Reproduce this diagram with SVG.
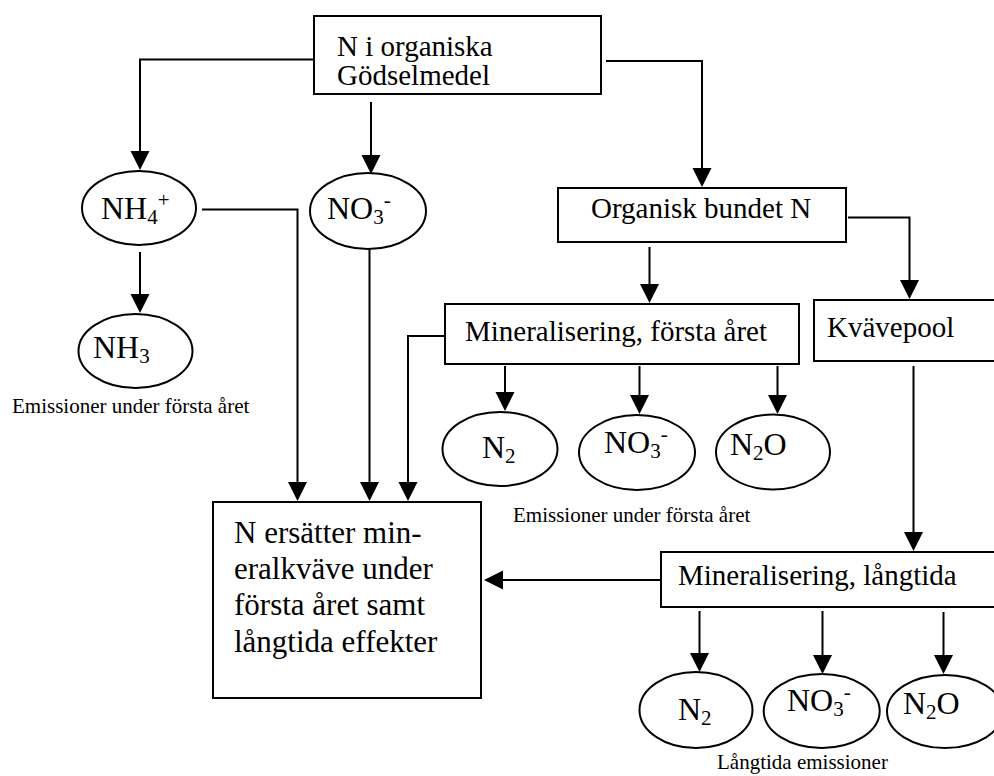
<svg xmlns="http://www.w3.org/2000/svg" width="994" height="776" viewBox="0 0 994 776">
<defs>
<style>
text{font-family:"Liberation Serif","Times New Roman",serif;fill:#000}
.lbl{font-size:29px}
.big{font-size:31px}
.chem{font-size:32px}
.sm{font-size:21px}
.s{font-size:21px}
.node{fill:#fff;stroke:#000;stroke-width:2}
#connectors path{fill:none;stroke:#000;stroke-width:2}
</style>
<marker id="ah" markerUnits="userSpaceOnUse" markerWidth="20" markerHeight="20" viewBox="0 0 20 20" refX="15" refY="9.5" orient="auto">
<path d="M0,0 L19,9.5 L0,19 z" fill="#000"/>
</marker>
</defs>
<rect x="0" y="0" width="994" height="776" fill="#fff"/>
<g id="connectors">
<path d="M313,59.5 H140 V166" marker-end="url(#ah)"/>
<path d="M371,102 V170" marker-end="url(#ah)"/>
<path d="M606,61 H702 V183" marker-end="url(#ah)"/>
<path d="M140,252 V309" marker-end="url(#ah)"/>
<path d="M202,209.5 H297.5 V497" marker-end="url(#ah)"/>
<path d="M369.5,249 V497" marker-end="url(#ah)"/>
<path d="M445,336 H408 V497" marker-end="url(#ah)"/>
<path d="M649.5,247 V299" marker-end="url(#ah)"/>
<path d="M848,217.5 H909.5 V295" marker-end="url(#ah)"/>
<path d="M505,366 V407" marker-end="url(#ah)"/>
<path d="M639.5,366 V410" marker-end="url(#ah)"/>
<path d="M777.5,366 V410" marker-end="url(#ah)"/>
<path d="M913.5,366 V547" marker-end="url(#ah)"/>
<path d="M661,580 H488" marker-end="url(#ah)"/>
<path d="M699.5,611 V668" marker-end="url(#ah)"/>
<path d="M822.5,611 V670" marker-end="url(#ah)"/>
<path d="M943.5,612 V670" marker-end="url(#ah)"/>
</g>
<g id="n-top">
<rect class="node" x="314" y="16" width="287" height="78"/>
<text class="lbl" x="337" y="56">N i organiska</text>
<text class="lbl" x="337" y="85">Gödselmedel</text>
</g>
<g id="n-organisk">
<rect class="node" x="558" y="188" width="288" height="54"/>
<text class="lbl" x="591" y="218">Organisk bundet N</text>
</g>
<g id="n-nh4">
<ellipse class="node" cx="139" cy="208" rx="57" ry="37"/>
<text class="chem" x="101" y="219">NH<tspan class="s" dy="5">4</tspan><tspan class="s" dy="-17">+</tspan></text>
</g>
<g id="n-no3a">
<ellipse class="node" cx="368" cy="211" rx="58" ry="38"/>
<text class="chem" x="327" y="219">NO<tspan class="s" dy="5">3</tspan><tspan class="s" dy="-17">-</tspan></text>
</g>
<g id="n-nh3">
<ellipse class="node" cx="135.5" cy="351" rx="57" ry="37"/>
<text class="chem" x="93" y="358">NH<tspan class="s" dy="5">3</tspan></text>
</g>
<g id="t-em1">
<text class="sm" x="12" y="413">Emissioner under första året</text>
</g>
<g id="n-minf">
<rect class="node" x="445" y="304" width="354" height="60"/>
<text class="lbl" x="465" y="341">Mineralisering, första året</text>
</g>
<g id="n-kvave">
<rect class="node" x="814" y="300" width="192" height="61"/>
<text class="lbl" x="827" y="337">Kvävepool</text>
</g>
<g id="n-n2a">
<ellipse class="node" cx="500" cy="449" rx="57.5" ry="37"/>
<text class="chem" x="482" y="458">N<tspan class="s" dy="5">2</tspan></text>
</g>
<g id="n-no3b">
<ellipse class="node" cx="637" cy="452.5" rx="58" ry="37.5"/>
<text class="chem" x="604" y="453">NO<tspan class="s" dy="5">3</tspan><tspan class="s" dy="-17">-</tspan></text>
</g>
<g id="n-n2oa">
<ellipse class="node" cx="773" cy="452" rx="57" ry="37.5"/>
<text class="chem" x="730" y="455">N<tspan class="s" dy="5">2</tspan><tspan dy="-5">O</tspan></text>
</g>
<g id="t-em2">
<text class="sm" x="513" y="522">Emissioner under första året</text>
</g>
<g id="n-big">
<rect class="node" x="213" y="502" width="268" height="196"/>
<text class="big" x="234" y="543">N ersätter min-</text>
<text class="big" x="234" y="579">eralkväve under</text>
<text class="big" x="234" y="615">första året samt</text>
<text class="big" x="234" y="652">långtida effekter</text>
</g>
<g id="n-minl">
<rect class="node" x="661" y="552" width="345" height="55"/>
<text class="lbl" x="678" y="585">Mineralisering, långtida</text>
</g>
<g id="n-n2b">
<ellipse class="node" cx="696" cy="710" rx="56.5" ry="38"/>
<text class="chem" x="678" y="720">N<tspan class="s" dy="5">2</tspan></text>
</g>
<g id="n-no3c">
<ellipse class="node" cx="821.7" cy="711" rx="58" ry="37"/>
<text class="chem" x="787" y="711">NO<tspan class="s" dy="5">3</tspan><tspan class="s" dy="-17">-</tspan></text>
</g>
<g id="n-n2ob">
<ellipse class="node" cx="945" cy="711.5" rx="58" ry="36.5"/>
<text class="chem" x="903" y="714">N<tspan class="s" dy="5">2</tspan><tspan dy="-5">O</tspan></text>
</g>
<g id="t-em3">
<text class="sm" x="717" y="769">Långtida emissioner</text>
</g>
</svg>
